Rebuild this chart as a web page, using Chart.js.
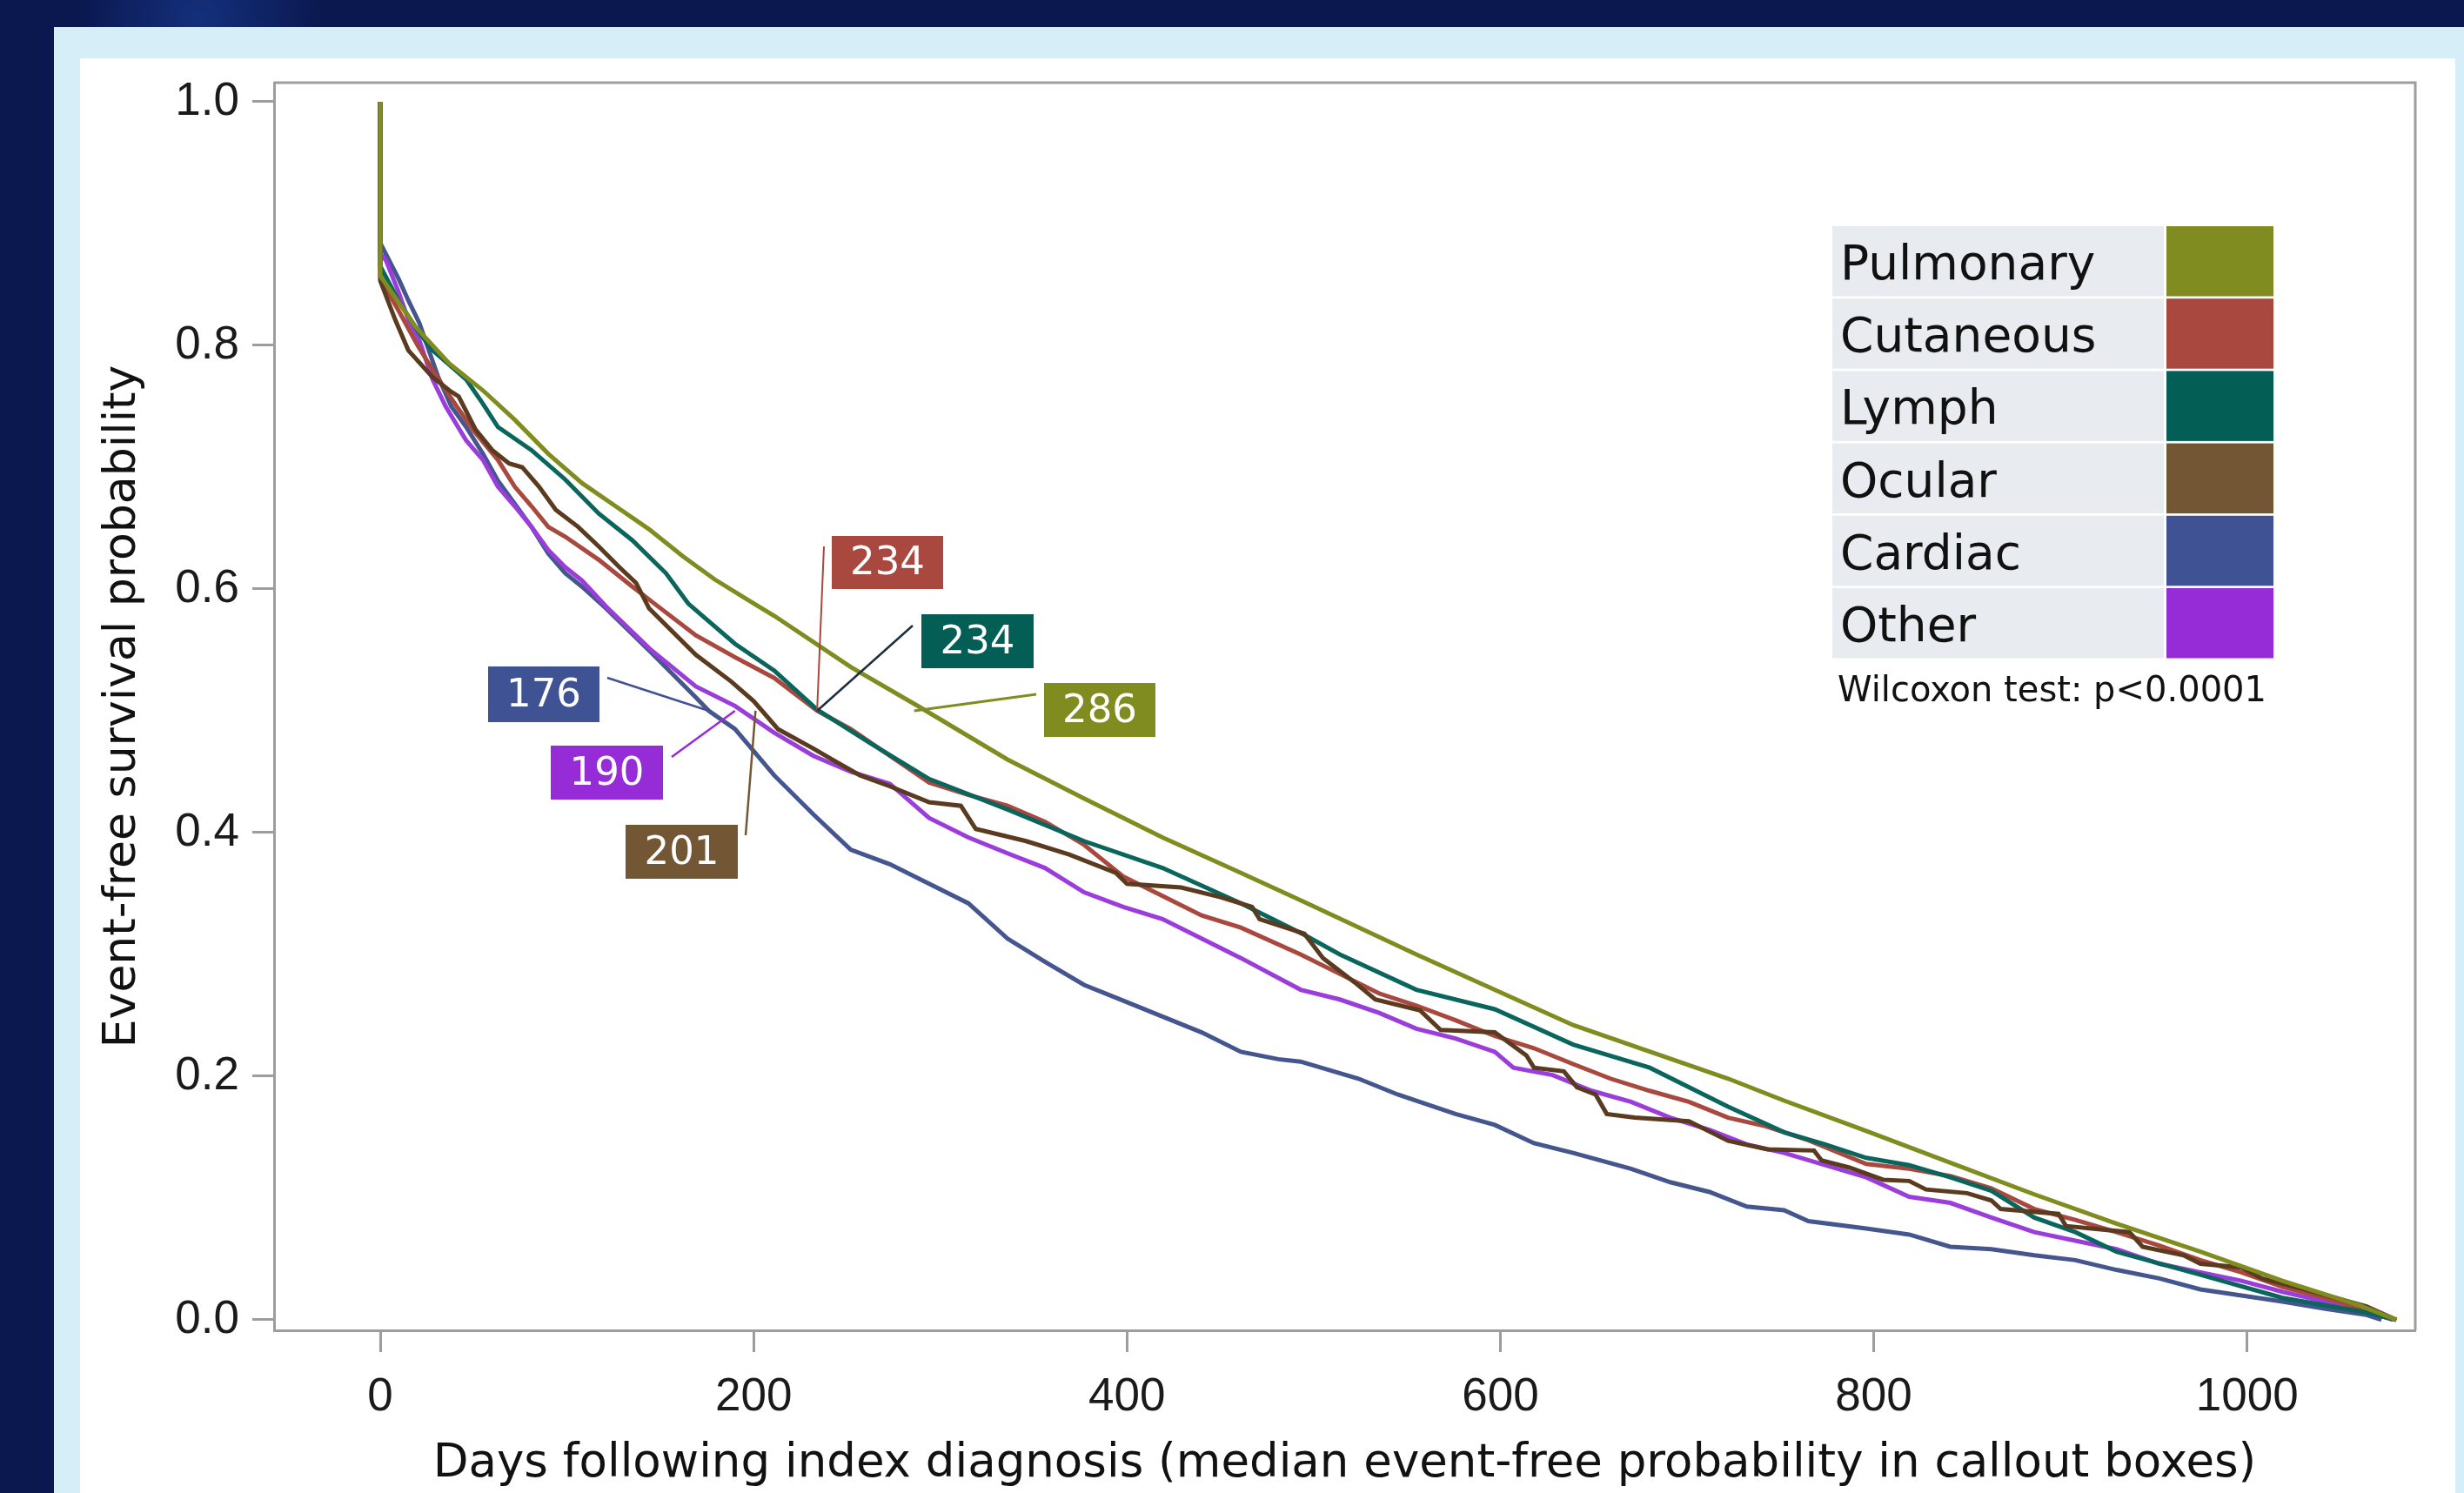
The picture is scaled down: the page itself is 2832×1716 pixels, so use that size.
<!DOCTYPE html>
<html>
<head>
<meta charset="utf-8">
<script src="https://cdn.jsdelivr.net/npm/chart.js@4.4.0/dist/chart.umd.min.js"></script>
<style>
  html, body { margin: 0; padding: 0; }
  body {
    width: 2832px; height: 1716px; overflow: hidden; position: relative;
    background: radial-gradient(circle at 230px 20px, #14307c 0, #0b1850 140px);
  }
  #panel { position: absolute; left: 62px; top: 31px; right: 0; bottom: 0; background: #d6eef8; }
  #sheet { position: absolute; left: 92px; top: 67px; width: 2730px; bottom: 0; background: #fff; }
  #chart { position: absolute; left: 0; top: 0; }
</style>
</head>
<body>
<div id="panel"></div>
<div id="sheet"></div>
<canvas id="chart" width="2832" height="1716"></canvas>
<script>
const groups = ['Pulmonary', 'Cutaneous', 'Lymph', 'Ocular', 'Cardiac', 'Other'];
const colors = ['#818c20', '#a8483e', '#035e55', '#735634', '#3f5293', '#952cd8'];
const lineColors = ['#818c20', '#a8483e', '#0a655c', '#5a3b1f', '#45568f', '#9a3ddb'];
const medians = [286, 234, 234, 201, 176, 190];
const xTicks = [0, 200, 400, 600, 800, 1000];
const yTicks = [0, 0.2, 0.4, 0.6, 0.8, 1.0];

// [day, event-free probability]
const pulmonary = [[0,1],[0,0.857],[10,0.835],[19,0.815],[37,0.785],[55,0.763],[72,0.739],[90,0.711],[108,0.687],[126,0.668],
  [144,0.649],[162,0.627],[179,0.608],[197,0.591],[211,0.578],[252,0.536],[289,0.503],[336,0.46],[377,0.428],[419,0.396],
  [461,0.367],[495,0.343],[555,0.3],[639,0.242],[722,0.198],[752,0.18],[796,0.155],[841,0.129],[886,0.103],[930,0.079],
  [975,0.056],[1019,0.032],[1060,0.012],[1080,0]];
const cutaneous = [[0,1],[0,0.855],[10,0.828],[20,0.8],[30,0.775],[40,0.752],[50,0.73],[63,0.706],[72,0.684],[81,0.668],
  [90,0.651],[99,0.643],[117,0.624],[135,0.602],[146,0.589],[169,0.562],[190,0.544],[211,0.527],[234,0.5],[252,0.485],
  [273,0.463],[294,0.441],[315,0.431],[336,0.422],[356,0.409],[377,0.39],[398,0.364],[419,0.348],[440,0.332],[461,0.322],
  [493,0.3],[514,0.284],[535,0.268],[555,0.258],[576,0.246],[597,0.233],[618,0.223],[639,0.21],[659,0.198],[680,0.188],
  [701,0.179],[722,0.166],[742,0.159],[764,0.148],[796,0.128],[819,0.124],[841,0.118],[863,0.108],[886,0.091],[908,0.082],
  [930,0.072],[953,0.061],[975,0.049],[997,0.039],[1019,0.027],[1042,0.018],[1064,0.008],[1080,0]];
const lymph = [[0,1],[0,0.865],[10,0.836],[20,0.812],[28,0.796],[46,0.772],[55,0.752],[63,0.733],[81,0.714],[99,0.69],
  [117,0.662],[135,0.64],[153,0.613],[165,0.588],[190,0.555],[211,0.533],[234,0.501],[263,0.473],[294,0.444],[336,0.419],
  [377,0.393],[419,0.371],[461,0.342],[495,0.316],[514,0.3],[555,0.271],[597,0.255],[639,0.226],[680,0.207],[722,0.175],
  [752,0.154],[774,0.144],[796,0.133],[819,0.127],[841,0.117],[863,0.106],[886,0.084],[908,0.072],[930,0.056],[975,0.037],
  [1019,0.018],[1064,0.006],[1080,0]];
const ocular = [[0,1],[0,0.853],[8,0.821],[15,0.796],[28,0.774],[37,0.763],[42,0.758],[51,0.731],[60,0.714],[69,0.703],
  [76,0.7],[85,0.684],[94,0.665],[106,0.651],[117,0.635],[128,0.618],[137,0.605],[144,0.584],[169,0.546],[188,0.524],
  [200,0.508],[213,0.485],[232,0.469],[242,0.46],[257,0.447],[273,0.438],[294,0.425],[311,0.422],[319,0.403],[346,0.393],
  [369,0.382],[394,0.367],[400,0.358],[429,0.355],[450,0.347],[467,0.339],[471,0.329],[495,0.317],[505,0.297],[522,0.277],
  [533,0.263],[557,0.254],[568,0.238],[597,0.236],[614,0.217],[618,0.207],[634,0.204],[641,0.191],[651,0.185],[657,0.169],
  [672,0.166],[701,0.163],[722,0.147],[743,0.14],[768,0.139],[772,0.131],[787,0.125],[805,0.115],[819,0.114],[828,0.107],
  [850,0.104],[863,0.098],[868,0.091],[899,0.087],[903,0.077],[937,0.072],[944,0.06],[966,0.053],[975,0.046],[997,0.043],
  [1008,0.034],[1031,0.025],[1064,0.011],[1080,0]];
const cardiac = [[0,1],[0,0.884],[3,0.875],[10,0.854],[15,0.837],[21,0.818],[26,0.796],[31,0.774],[38,0.75],[46,0.733],
  [55,0.711],[63,0.689],[72,0.67],[81,0.651],[90,0.629],[99,0.613],[108,0.602],[121,0.584],[145,0.548],[169,0.511],
  [176,0.5],[190,0.485],[211,0.447],[232,0.415],[252,0.386],[273,0.374],[294,0.358],[315,0.342],[336,0.313],[356,0.294],
  [377,0.275],[398,0.262],[419,0.249],[440,0.236],[461,0.22],[481,0.214],[493,0.212],[524,0.198],[545,0.185],[576,0.169],
  [597,0.16],[618,0.145],[639,0.137],[670,0.124],[691,0.113],[712,0.105],[732,0.093],[752,0.09],[765,0.081],[796,0.075],
  [819,0.07],[841,0.06],[863,0.058],[886,0.053],[908,0.049],[930,0.041],[953,0.034],[975,0.025],[997,0.02],[1019,0.015],
  [1042,0.009],[1064,0.004],[1072,0]];
const other = [[0,1],[0,0.875],[3,0.87],[10,0.843],[15,0.821],[21,0.804],[28,0.772],[35,0.75],[46,0.722],[55,0.706],
  [63,0.684],[72,0.668],[81,0.651],[90,0.632],[99,0.618],[108,0.607],[122,0.584],[145,0.55],[169,0.52],[190,0.504],
  [211,0.482],[232,0.463],[252,0.45],[273,0.44],[294,0.412],[315,0.396],[336,0.383],[356,0.371],[377,0.351],[398,0.339],
  [419,0.329],[440,0.313],[461,0.297],[493,0.271],[514,0.263],[535,0.252],[555,0.239],[576,0.231],[597,0.22],[607,0.207],
  [628,0.201],[649,0.188],[670,0.179],[691,0.166],[712,0.156],[732,0.144],[752,0.137],[774,0.127],[796,0.117],[819,0.101],
  [841,0.096],[863,0.084],[886,0.072],[908,0.065],[930,0.058],[953,0.046],[975,0.039],[997,0.032],[1019,0.023],[1042,0.015],
  [1064,0.007],[1078,0]];

const curves = [pulmonary, cutaneous, lymph, ocular, cardiac, other];
const drawOrder = [0, 3, 2, 1, 5, 4];

// callout boxes: [x, y, w, h] and where the leader leaves the box
const callouts = [
  { i: 1, box: [956, 616, 128, 61], from: [947, 628], lw: 2 },
  { i: 2, box: [1059, 706, 129, 62], from: [1049, 719], lw: 2.5, lc: '#1c2f3c' },
  { i: 0, box: [1200, 785, 128, 62], from: [1191, 798], lw: 3 },
  { i: 4, box: [561, 766, 128, 64], from: [698, 779], lw: 2.5 },
  { i: 5, box: [633, 857, 129, 62], from: [772, 870], lw: 2.5 },
  { i: 3, box: [719, 948, 129, 62], from: [857, 960], lw: 2.5 }
];

const FONT = 'DejaVu Sans';

const overlay = {
  id: 'overlay',
  beforeDatasetsDraw(chart) {
    const { ctx, chartArea: a } = chart;
    ctx.save();
    ctx.strokeStyle = '#9d9d9d';
    ctx.lineWidth = 3;
    ctx.beginPath();
    ctx.moveTo(a.left, a.top);
    ctx.lineTo(a.right, a.top);
    ctx.lineTo(a.right, a.bottom);
    ctx.stroke();
    ctx.restore();
  },
  afterDatasetsDraw(chart) {
    const { ctx } = chart;
    const xs = chart.scales.x, ys = chart.scales.y;
    ctx.save();

    // callouts with leader lines to the median
    callouts.forEach(c => {
      const px = xs.getPixelForValue(medians[c.i]);
      const py = ys.getPixelForValue(0.5);
      ctx.strokeStyle = c.lc || colors[c.i];
      ctx.lineWidth = c.lw;
      ctx.beginPath();
      ctx.moveTo(c.from[0], c.from[1]);
      ctx.lineTo(px, py);
      ctx.stroke();
      const [bx, by, bw, bh] = c.box;
      ctx.fillStyle = colors[c.i];
      ctx.fillRect(bx, by, bw, bh);
      ctx.fillStyle = '#ffffff';
      ctx.font = '45px "' + FONT + '"';
      ctx.textAlign = 'center';
      ctx.textBaseline = 'middle';
      ctx.fillText(String(medians[c.i]), bx + bw / 2, by + bh / 2 + 2);
    });

    // legend table
    const lx = 2106, rowH = 80.5, pitch = 83.2, top0 = 260;
    groups.forEach((g, k) => {
      const y = top0 + k * pitch;
      ctx.fillStyle = '#e8ebef';
      ctx.fillRect(lx, y, 381, rowH);
      ctx.fillStyle = colors[k];
      ctx.fillRect(2490, y, 123, rowH);
      ctx.fillStyle = '#111111';
      ctx.font = '55px "' + FONT + '"';
      ctx.textAlign = 'left';
      ctx.textBaseline = 'alphabetic';
      ctx.fillText(g, 2115, y + 61);
    });
    ctx.font = '40px "' + FONT + '"';
    ctx.fillStyle = '#111111';
    ctx.fillText('Wilcoxon test: p<0.0001', 2112, 806);
    ctx.restore();
  }
};

new Chart(document.getElementById('chart'), {
  type: 'line',
  data: {
    datasets: curves.map((pts, k) => ({
      label: groups[k],
      data: pts.map(p => ({ x: p[0], y: p[1] })),
      borderColor: lineColors[k],
      borderWidth: 5,
      pointRadius: 0,
      tension: 0,
      fill: false,
      order: drawOrder.indexOf(k)
    }))
  },
  options: {
    responsive: false,
    animation: false,
    devicePixelRatio: 1,
    layout: { padding: { left: 0, top: 95, right: 56, bottom: 0 } },
    plugins: { legend: { display: false }, tooltip: { enabled: false } },
    scales: {
      x: {
        type: 'linear',
        min: -56.9,
        max: 1090.1,
        afterBuildTicks: s => { s.ticks = xTicks.map(v => ({ value: v })); },
        afterFit: s => { s.height = 187; },
        grid: { drawOnChartArea: false, drawTicks: true, tickLength: 25, tickWidth: 3, tickColor: '#9d9d9d' },
        border: { display: true, color: '#9d9d9d', width: 3 },
        ticks: {
          font: { family: 'Liberation Sans', size: 53 },
          color: '#1a1a1a',
          padding: 21,
          maxRotation: 0,
          autoSkip: false,
          callback: v => String(v)
        },
        title: {
          display: true,
          text: 'Days following index diagnosis (median event-free probability in callout boxes)',
          font: { family: FONT, size: 53 },
          color: '#111111',
          padding: { top: 0, bottom: 1 }
        }
      },
      y: {
        type: 'linear',
        min: -0.0086,
        max: 1.0157,
        afterBuildTicks: s => { s.ticks = yTicks.map(v => ({ value: v })); },
        afterFit: s => { s.width = 315; },
        grid: { drawOnChartArea: false, drawTicks: true, tickLength: 25, tickWidth: 3, tickColor: '#9d9d9d' },
        border: { display: true, color: '#9d9d9d', width: 3 },
        ticks: {
          font: { family: 'Liberation Sans', size: 53 },
          color: '#1a1a1a',
          padding: 15,
          callback: v => v.toFixed(1)
        },
        title: {
          display: true,
          text: 'Event-free survival probability',
          font: { family: FONT, size: 52 },
          color: '#111111',
          padding: { top: 110, bottom: 0 }
        }
      }
    }
  },
  plugins: [overlay]
});
</script>
</body>
</html>
